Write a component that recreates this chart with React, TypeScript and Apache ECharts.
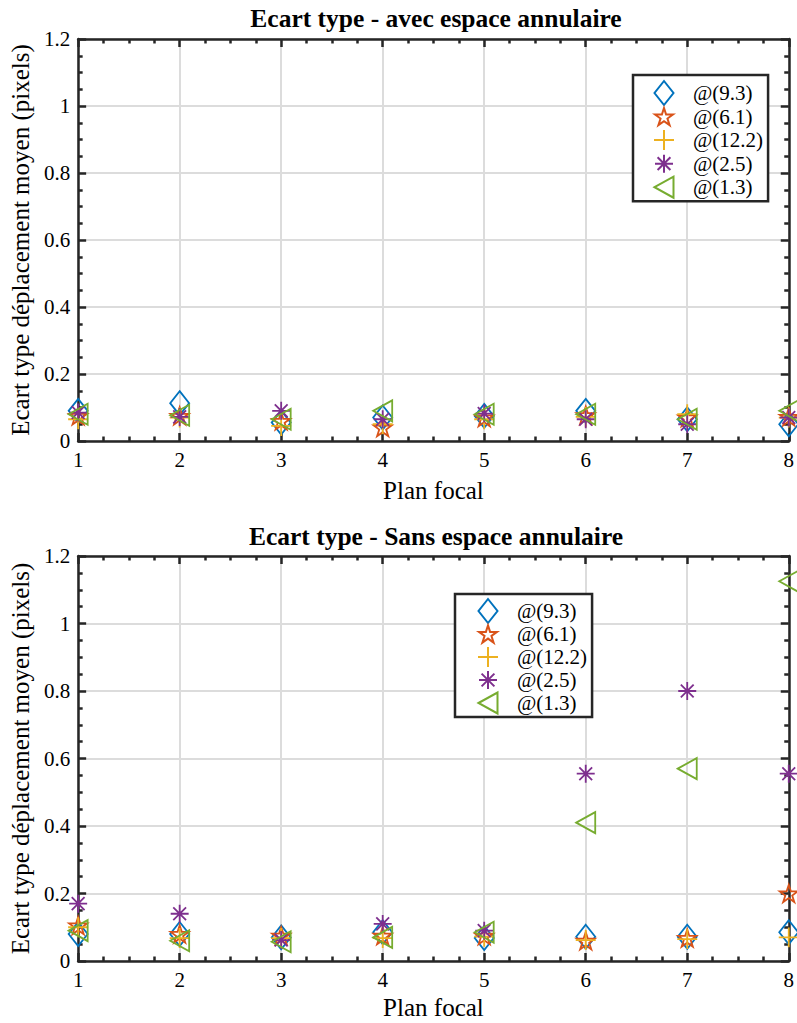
import React, { useEffect, useRef } from "react";
import * as echarts from "echarts";

// ---------- Data ----------
const planFocal = [1, 2, 3, 4, 5, 6, 7, 8];
const seriesNames = ["@(9.3)", "@(6.1)", "@(12.2)", "@(2.5)", "@(1.3)"];

// Top chart: "avec espace annulaire"
const avec93 = [0.09, 0.113, 0.055, 0.07, 0.075, 0.09, 0.065, 0.05];
const avec61 = [0.075, 0.075, 0.06, 0.04, 0.07, 0.077, 0.07, 0.072];
const avec122 = [0.065, 0.07, 0.045, 0.05, 0.065, 0.072, 0.08, 0.07];
const avec25 = [0.085, 0.072, 0.09, 0.065, 0.082, 0.065, 0.05, 0.07];
const avec13 = [0.08, 0.077, 0.065, 0.09, 0.08, 0.08, 0.065, 0.09];

// Bottom chart: "Sans espace annulaire"
const sans93 = [0.08, 0.08, 0.07, 0.085, 0.068, 0.072, 0.072, 0.085];
const sans61 = [0.105, 0.08, 0.075, 0.075, 0.075, 0.06, 0.068, 0.2];
const sans122 = [0.1, 0.068, 0.068, 0.068, 0.072, 0.062, 0.065, 0.07];
const sans25 = [0.17, 0.14, 0.062, 0.11, 0.09, 0.555, 0.8, 0.555];
const sans13 = [0.09, 0.06, 0.057, 0.07, 0.085, 0.41, 0.57, 1.125];

const titles = ["Ecart type - avec espace annulaire", "Ecart type - Sans espace annulaire"];
const xName = "Plan focal";
const yName = "Ecart type déplacement moyen (pixels)";

// ---------- Styles ----------
const colors = ["#0072BD", "#D95319", "#EDB120", "#7E2F8E", "#77AC30"];
const PAD = "M-12,-12 M12,12 ";
const symbols = [
  PAD + "M0,-12 L9.5,0 L0,12 L-9.5,0 Z",
  PAD + "M0,-8.6 L2.1,-2.1 L9,-2.1 L3.45,2 L5.6,8.6 L0,4.6 L-5.6,8.6 L-3.45,2 L-9,-2.1 L-2.1,-2.1 Z",
  PAD + "M0,-10 L0,10 M-10,0 L10,0",
  PAD + "M0,-9 L0,9 M-9,0 L9,0 M-6.4,-6.4 L6.4,6.4 M-6.4,6.4 L6.4,-6.4",
  PAD + "M-9.5,0 L9.5,-10.5 L9.5,10.5 Z",
];

const FONT = "'Liberation Serif', 'Times New Roman', serif";
const AXIS_COLOR = "#262626";

export default function App() {
  const ref = useRef<HTMLDivElement>(null);

  useEffect(() => {
    if (!ref.current) return;
    const chart = echarts.init(ref.current, undefined, { renderer: "svg" });

    const grids = [
      { left: 78, right: 7, top: 39, height: 402 },
      { left: 78, right: 7, top: 556, height: 405 },
    ];

    const boxAxisCommon = {
      axisLine: { show: true, onZero: false, lineStyle: { color: AXIS_COLOR, width: 2.5 } },
      axisTick: { show: true, inside: true, length: 8, lineStyle: { color: AXIS_COLOR, width: 2.5 } },
      minorTick: { show: true, splitNumber: 4, length: 4.5, lineStyle: { color: AXIS_COLOR, width: 2.5 } },
    };

    const xAxes: any[] = [];
    const yAxes: any[] = [];
    [0, 1].forEach((g) => {
      xAxes.push({
        type: "value",
        gridIndex: g,
        position: "bottom",
        min: 1,
        max: 8,
        interval: 1,
        ...boxAxisCommon,
        axisLabel: { show: true, margin: 8, color: "#000", fontFamily: FONT, fontSize: 21 },
        splitLine: { show: true, lineStyle: { color: "#dcdcdc", width: 2 } },
        name: xName,
        nameLocation: "middle",
        nameGap: g === 0 ? 37 : 34,
        nameTextStyle: { color: "#000", fontFamily: FONT, fontSize: 25 },
      });
      xAxes.push({
        type: "value",
        gridIndex: g,
        position: "top",
        min: 1,
        max: 8,
        interval: 1,
        ...boxAxisCommon,
        axisLabel: { show: false },
        splitLine: { show: false },
      });
      yAxes.push({
        type: "value",
        gridIndex: g,
        position: "left",
        min: 0,
        max: 1.2,
        interval: 0.2,
        ...boxAxisCommon,
        axisLabel: {
          show: true,
          margin: 8,
          color: "#000",
          fontFamily: FONT,
          fontSize: 21,
          formatter: (v: number) => String(+v.toFixed(1)),
        },
        splitLine: { show: true, lineStyle: { color: "#dcdcdc", width: 2 } },
        name: yName,
        nameLocation: "middle",
        nameGap: 36,
        nameTextStyle: { color: "#000", fontFamily: FONT, fontSize: 25 },
      });
      yAxes.push({
        type: "value",
        gridIndex: g,
        position: "right",
        min: 0,
        max: 1.2,
        interval: 0.2,
        ...boxAxisCommon,
        axisLabel: { show: false },
        splitLine: { show: false },
      });
    });

    const dataSets = [
      [avec93, avec61, avec122, avec25, avec13],
      [sans93, sans61, sans122, sans25, sans13],
    ];

    const series: any[] = [];
    dataSets.forEach((set, g) => {
      set.forEach((vals, i) => {
        series.push({
          type: "scatter",
          name: seriesNames[i],
          xAxisIndex: g * 2,
          yAxisIndex: g * 2,
          symbol: "path://" + symbols[i],
          symbolSize: 24,
          symbolKeepAspect: true,
          clip: false,
          itemStyle: { color: "rgba(0,0,0,0)", borderColor: colors[i], borderWidth: 1.8, opacity: 1 },
          emphasis: { disabled: true },
          data: planFocal.map((x, k) => [x, vals[k]]),
        });
      });
    });

    const legendCommon = {
      orient: "vertical",
      itemWidth: 48,
      itemHeight: 24,
      backgroundColor: "#fff",
      borderColor: AXIS_COLOR,
      borderWidth: 2.5,
      borderRadius: 0,
      selectedMode: false,
      textStyle: { color: "#000", fontFamily: FONT, fontSize: 21, lineHeight: 22 },
      data: seriesNames,
    };

    chart.setOption({
      animation: false,
      backgroundColor: "#fff",
      textStyle: { fontFamily: FONT, color: "#000" },
      title: [
        {
          text: titles[0],
          left: 431,
          top: 0,
          textAlign: "center",
          textStyle: { color: "#000", fontFamily: FONT, fontWeight: "bold", fontSize: 25.5 },
        },
        {
          text: titles[1],
          left: 431,
          top: 518,
          textAlign: "center",
          textStyle: { color: "#000", fontFamily: FONT, fontWeight: "bold", fontSize: 25.5 },
        },
      ],
      grid: grids,
      xAxis: xAxes,
      yAxis: yAxes,
      legend: [
        { ...legendCommon, left: 633, top: 75, padding: [5, 5, 1, 18], itemGap: -2.45 },
        { ...legendCommon, left: 455, top: 594, padding: [4, 5, 1, 20], itemGap: -3 },
      ],
      series,
    });

    return () => chart.dispose();
  }, []);

  return (
    <div
      ref={ref}
      style={{ position: "absolute", left: 0, top: 0, width: 797, height: 1023 }}
    />
  );
}
